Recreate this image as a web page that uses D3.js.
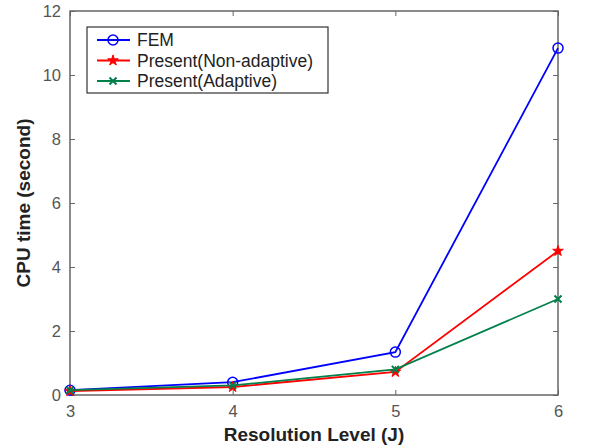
<!DOCTYPE html>
<html>
<head>
<meta charset="utf-8">
<script src="https://cdn.jsdelivr.net/npm/d3@7"></script>
<style>
  body { margin: 0; background: #fff; }
  text { font-family: "Liberation Sans", Arial, sans-serif; }
</style>
</head>
<body>
<div id="chart"></div>
<script>
// data
levels = [3, 4, 5, 6];
femTimes = [0.15, 0.4, 1.34, 10.84];
nonAdaptiveTimes = [0.12, 0.25, 0.72, 4.5];
adaptiveTimes = [0.15, 0.3, 0.8, 3.0];
seriesNames = ["FEM", "Present(Non-adaptive)", "Present(Adaptive)"];
yTicks = [0, 2, 4, 6, 8, 10, 12];

margin = { top: 11, right: 50, bottom: 53, left: 70 };
width = 608 - margin.left - margin.right;
height = 448 - margin.top - margin.bottom;

svg = d3.select("#chart")
  .append("svg")
    .attr("width", 608)
    .attr("height", 448)
  .append("g")
    .attr("transform", `translate(${margin.left},${margin.top})`);

xScale = d3.scaleLinear().domain([3, 6]).range([0, width]);
yScale = d3.scaleLinear().domain([0, 12]).range([height, 0]);

// axes, MATLAB style: ticks pointing in, on all four sides
axisColor = "#666";
function styleAxis(g) {
  g.select(".domain").remove();
  g.selectAll("line").attr("stroke", axisColor);
  g.selectAll("text").attr("fill", "#555").style("font-size", "16.5px");
}
svg.append("g")
  .attr("transform", "translate(0," + height + ")")
  .call(d3.axisBottom(xScale).tickValues(levels).tickFormat(d3.format("d")).tickSizeInner(-5).tickSizeOuter(0).tickPadding(10))
  .call(styleAxis);
svg.append("g")
  .call(d3.axisLeft(yScale).tickValues(yTicks).tickSizeInner(-5).tickSizeOuter(0).tickPadding(9))
  .call(styleAxis);
svg.append("g")
  .call(d3.axisTop(xScale).tickValues(levels).tickFormat("").tickSizeInner(-5).tickSizeOuter(0))
  .call(styleAxis);
svg.append("g")
  .attr("transform", "translate(" + width + ",0)")
  .call(d3.axisRight(yScale).tickValues(yTicks).tickFormat("").tickSizeInner(-5).tickSizeOuter(0))
  .call(styleAxis);

svg.append("rect")
  .attr("width", width)
  .attr("height", height)
  .attr("fill", "none")
  .attr("stroke", axisColor)
  .attr("stroke-width", 1.5);

// labels
svg.append("text")
  .attr("x", width / 2)
  .attr("y", height + 46)
  .style("text-anchor", "middle")
  .style("font-size", "19px")
  .style("font-weight", "bold")
  .attr("fill", "#222")
  .text("Resolution Level (J)");

svg.append("text")
  .attr("transform", "rotate(-90)")
  .attr("x", 0 - height / 2)
  .attr("y", -40)
  .style("text-anchor", "middle")
  .style("font-size", "19px")
  .style("font-weight", "bold")
  .attr("fill", "#222")
  .text("CPU time (second)");

// series
colors = ["#0000ff", "#ff0000", "#00804a"];
allSeries = [femTimes, nonAdaptiveTimes, adaptiveTimes];
markers = ["circle", "star", "cross"];

line = d3.line()
  .x((d, i) => xScale(levels[i]))
  .y(d => yScale(d));

function drawMarker(g, type, color) {
  if (type == "circle") {
    g.append("circle").attr("r", 5).attr("fill", "none").attr("stroke", color).attr("stroke-width", 1.5);
  } else if (type == "star") {
    g.append("path").attr("d", d3.symbol(d3.symbolStar, 35)()).attr("fill", color).attr("stroke", color);
  } else {
    g.append("path").attr("d", "M-3.5,-3.5L3.5,3.5M-3.5,3.5L3.5,-3.5").attr("stroke", color).attr("stroke-width", 2);
  }
}

allSeries.forEach(function(vals, k) {
  svg.append("path")
    .datum(vals)
    .attr("fill", "none")
    .attr("stroke", colors[k])
    .attr("stroke-width", 1.8)
    .attr("d", line);
  vals.forEach(function(v, i) {
    g = svg.append("g").attr("transform", "translate(" + xScale(levels[i]) + "," + yScale(v) + ")");
    drawMarker(g, markers[k], colors[k]);
  });
});

// legend
legend = svg.append("g").attr("transform", "translate(17,16)");
legend.append("rect")
  .attr("width", 241)
  .attr("height", 66)
  .attr("fill", "#fff")
  .attr("stroke", "#333")
  .attr("stroke-width", 1.2);
seriesNames.forEach(function(name, k) {
  row = legend.append("g").attr("transform", "translate(0," + (13 + k * 20.5) + ")");
  row.append("line").attr("x1", 10).attr("x2", 43).attr("stroke", colors[k]).attr("stroke-width", 2);
  drawMarker(row.append("g").attr("transform", "translate(26,0)"), markers[k], colors[k]);
  row.append("text")
    .attr("x", 50)
    .attr("dy", "0.35em")
    .style("font-size", "17.5px")
    .attr("fill", "#222")
    .text(name);
});
</script>
</body>
</html>
